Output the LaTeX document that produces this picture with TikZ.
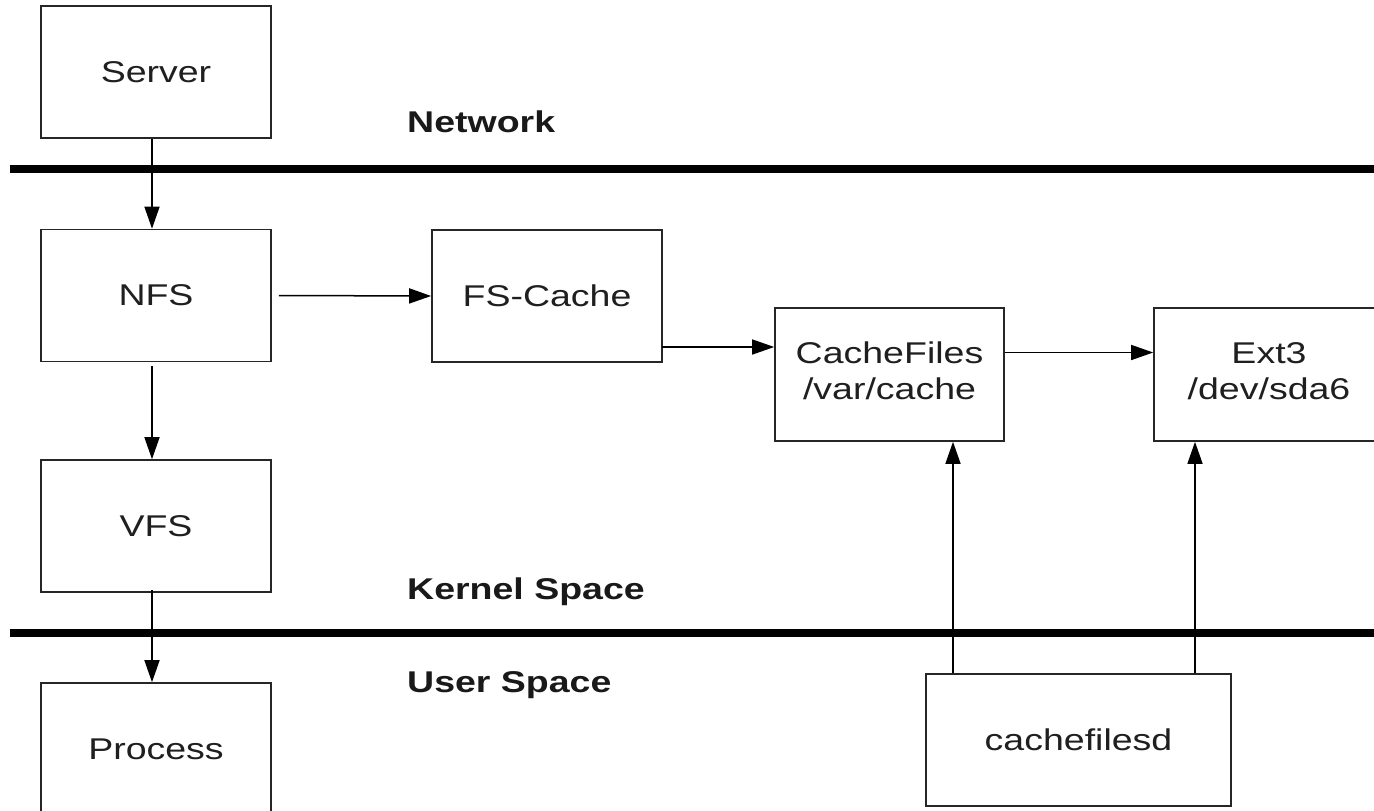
\documentclass[tikz,border=0pt]{standalone}
\usepackage{fontspec}
\setmainfont{Liberation Sans}
\usepackage{graphicx}
\usetikzlibrary{arrows.meta}
\newcommand{\wtxt}[1]{\scalebox{1.25}[1]{#1}}
\newcommand{\wtwo}[2]{\scalebox{1.25}[1]{\begin{tabular}{@{}c@{}}#1\\#2\end{tabular}}}
\begin{document}
\begin{tikzpicture}[x=1pt,y=-1pt,
  box/.style={draw=black!85, line width=1.6pt, rectangle, inner sep=0pt,
    minimum width=230pt, minimum height=132pt,
    font=\fontsize{30}{36}\selectfont, text=black!88},
  lbl/.style={anchor=base west, inner sep=0pt,
    font=\fontsize{30}{36}\selectfont\bfseries, text=black!90},
  arr/.style={line width=1.5pt, -{Triangle[length=22pt,width=15pt]}},
  bar/.style={line width=8pt}]
\clip (0,0) rectangle (1374,811);
\fill[white] (0,0) rectangle (1374,811);

% separator bars
\coordinate (b1l) at (10,169);
\coordinate (b1r) at (1380,169);
\coordinate (b2l) at (10,633);
\coordinate (b2r) at (1380,633);
\draw[bar] (b1l) -- (b1r);
\draw[bar] (b2l) -- (b2r);

% boxes
\node[box] (server) at (156,72) {\wtxt{Server}};
\node[box] (nfs) at (156,295.5) {\wtxt{NFS}};
\node[box] (vfs) at (156,526) {\wtxt{VFS}};
\node[box] (process) at (156,749) {\wtxt{Process}};
\node[box] (fscache) at (547,296) {\wtxt{FS-Cache}};
\node[box, minimum width=229pt, minimum height=133pt] (cachefiles) at (889.5,374.5) {\wtwo{CacheFiles}{/var/cache}};
\node[box, minimum height=133pt] (ext3) at (1269,374.5) {\wtwo{Ext3}{/dev/sda6}};
\node[box, minimum width=305pt] (cachefilesd) at (1078.5,740) {\wtxt{cachefilesd}};

% labels
\node[lbl] (lnet) at (407,132) {\wtxt{Network}};
\node[lbl] (lker) at (407,599) {\wtxt{Kernel Space}};
\node[lbl] (lusr) at (407,692) {\wtxt{User Space}};

% connectors
\draw[arr] ([xshift=-4pt]server.south) -- ([xshift=-4pt]nfs.north);
\draw[arr] ([xshift=-4pt,yshift=-4pt]nfs.south) -- ([xshift=-4pt]vfs.north);
\draw[arr] ([xshift=-4pt,yshift=3pt]vfs.south) -- ([xshift=-4pt]process.north);
\draw[arr] ([xshift=7pt]nfs.east) -- (fscache.west);
\draw[arr] ([xshift=-1pt,yshift=-51pt]fscache.east) coordinate (fc1) -- (fc1 -| cachefiles.west);
\draw[arr] ([yshift=22pt]cachefiles.east) coordinate (cf1) -- (cf1 -| ext3.west);
\draw[arr] ([xshift=-125.5pt]cachefilesd.north) coordinate (cd1) -- (cd1 |- cachefiles.south);
\draw[arr] ([xshift=116.5pt]cachefilesd.north) coordinate (cd2) -- (cd2 |- ext3.south);
\end{tikzpicture}
\end{document}
